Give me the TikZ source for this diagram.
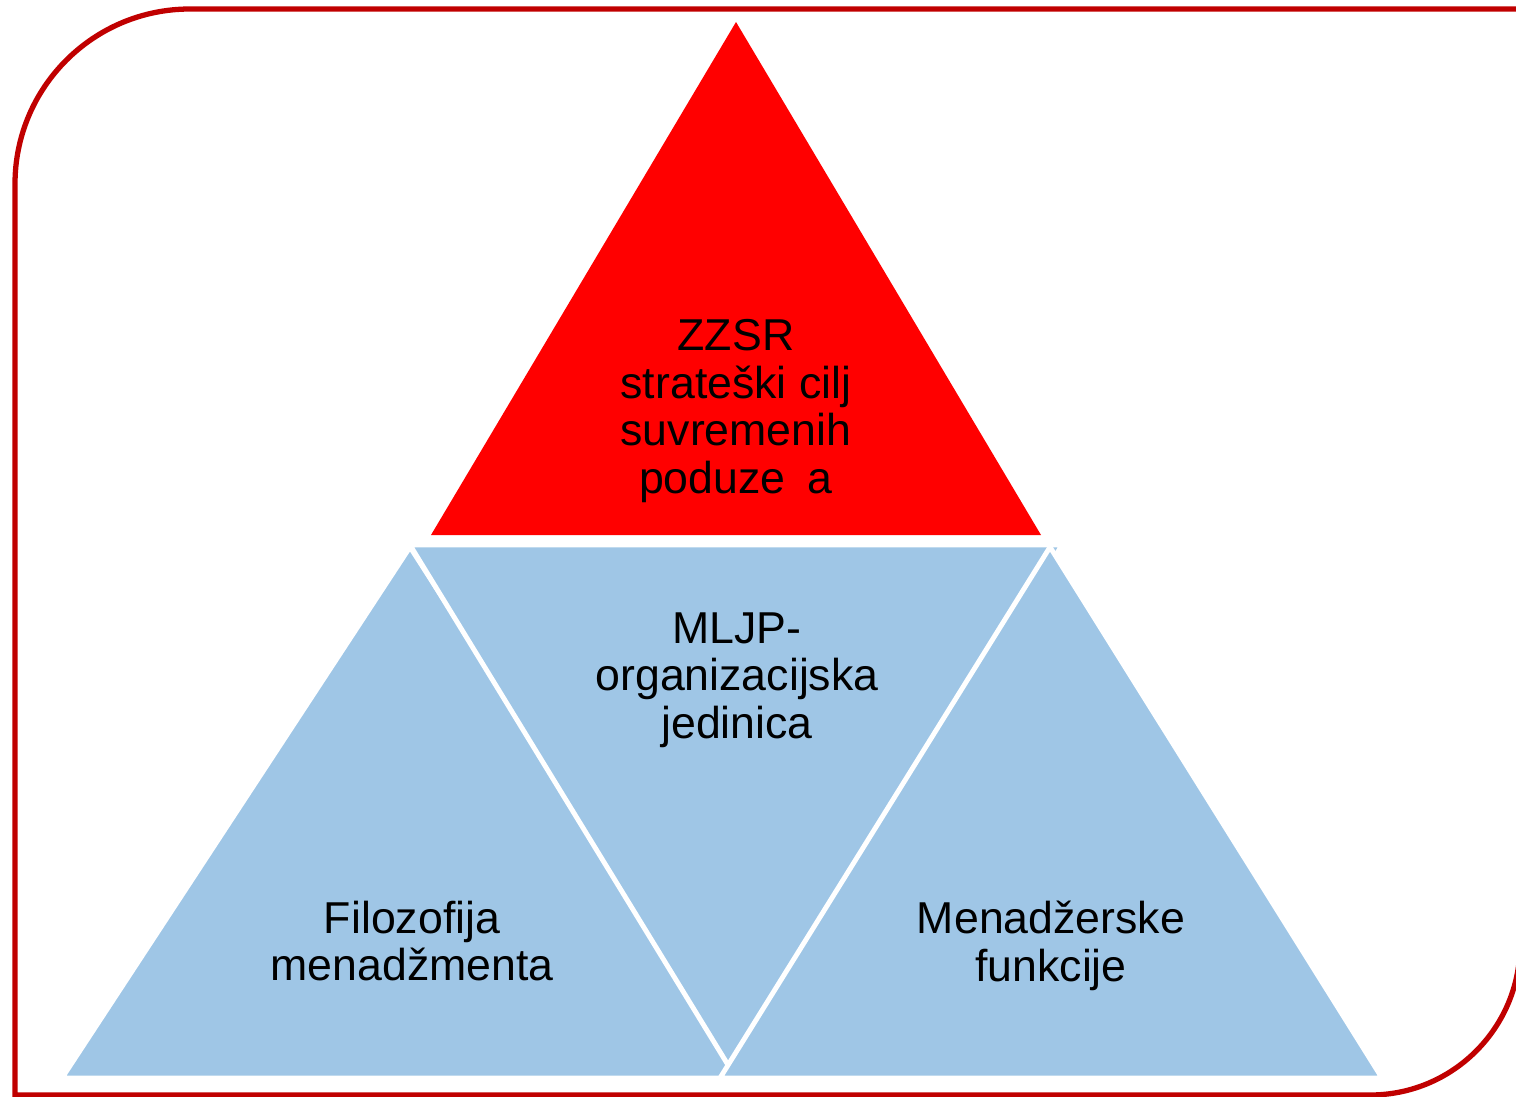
\documentclass[tikz,border=0pt]{standalone}
\usepackage{fontspec}
\setmainfont{Liberation Sans}
\usepackage{tikz}
\usetikzlibrary{calc, positioning}
\definecolor{framered}{RGB}{192,0,0}
\definecolor{topred}{RGB}{255,0,0}
\definecolor{lightblue}{RGB}{159,198,230}
\tikzstyle{redtri} = [fill=topred]
\tikzstyle{bluetri} = [fill=lightblue, draw=white, line width=1.4pt]
\tikzstyle{tritext} = [text centered, align=center, text=black, inner sep=0pt, font=\fontsize{12.7}{13.55}\selectfont]
\tikzset{
	FRAME/.style={draw=framered, line width=1.5pt}
}

\begin{document}
\begin{tikzpicture}[x=0.01cm, y=0.01cm]
					\useasboundingbox (0,0) rectangle (1516,1096);
					% frame
					\draw [FRAME] (15,1) -- (15,912) arc[start angle=180, end angle=90, radius=175] -- (1520,1087) -- (1520,151) arc[start angle=0, end angle=-90, radius=150] -- cycle;
					% corners of the triangles
					\coordinate (rtop) at (736,1074);
					\coordinate (rleft) at (431,561);
					\coordinate (rright) at (1041,561);
					\coordinate (ltop) at (410,549);
					\coordinate (lleft) at (62,18);
					\coordinate (lright) at (751,18);
					\coordinate (mleft) at (410,551);
					\coordinate (mright) at (1062,551);
					\coordinate (mbottom) at (736,18);
					\coordinate (ntop) at (1050,549);
					\coordinate (nleft) at (720,18);
					\coordinate (nright) at (1382,18);
					\fill [redtri] (rtop) -- (rleft) -- (rright) -- cycle;
					\filldraw [bluetri] (ltop) -- (lleft) -- (lright) -- cycle;
					\filldraw [bluetri] (mleft) -- (mright) -- (mbottom) -- cycle;
					\filldraw [bluetri] (ntop) -- (nleft) -- (nright) -- cycle;
					\node (goal) [tritext] at (736,685) {ZZSR\\strateški cilj\\suvremenih\\poduze\phantom{ć}a};
					\node (unit) [tritext] at (737,416) {MLJP-\\organizacijska\\jedinica};
					\node (philo) [tritext] at (412,155) {Filozofija\\menadžmenta};
					\node (func) [tritext] at (1051,150) {Menadžerske\\funkcije};
				\end{tikzpicture}
\end{document}
